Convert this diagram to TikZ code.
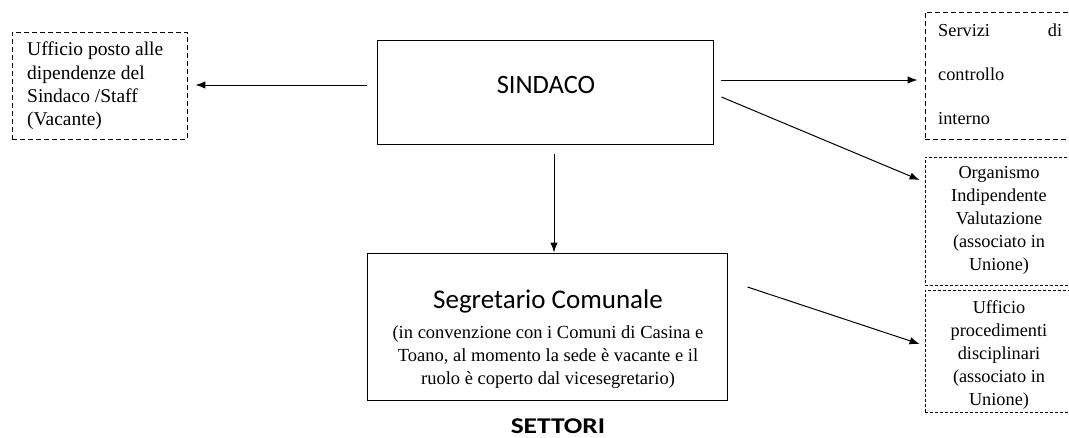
\documentclass[tikz,border=0pt]{standalone}
\usepackage{fontspec}
\setmainfont{Liberation Serif}
\newfontfamily\calib{Carlito}
\usetikzlibrary{calc,arrows.meta}
\begin{document}
\begin{tikzpicture}[x=1pt,y=-1pt,
  solidbox/.style={draw, line width=0.9pt, inner sep=0pt},
  dbox/.style={draw, line width=0.9pt, dash pattern=on 5pt off 3pt, inner sep=0pt},
  fbox/.style={draw, line width=0.8pt, dash pattern=on 3pt off 2pt, inner sep=0pt},
  arr/.style={-{Latex[length=10pt,width=7.5pt]}, line width=1pt},
  serif/.style={font=\fontsize{18.3}{23}\selectfont},
  txt/.style={inner sep=0pt}]
\useasboundingbox (0,0) rectangle (1069,437);
% boxes
\node[dbox, minimum width=175pt, minimum height=107pt] (staff) at (99.5,85.5) {};
\node[solidbox, minimum width=336pt, minimum height=104pt] (sind) at (545,92) {};
\node[solidbox, minimum width=360pt, minimum height=147pt] (seg) at (547,326.5) {};
\node[dbox, minimum width=152pt, minimum height=127pt] (serv) at (1001,75.5) {};
\node[fbox, minimum width=152pt, minimum height=128pt] (oiv) at (1001,221) {};
\node[fbox, minimum width=152pt, minimum height=122pt] (upd) at (1001,351) {};
% texts
\node[txt, anchor=west, align=left, font=\fontsize{19.5}{23.3}\selectfont] (stafft) at (27,86)
  {Ufficio posto alle\\dipendenze del\\Sindaco /Staff\\(Vacante)};
\node[txt, font=\calib\fontsize{26.5}{30}\selectfont] (sindt) at (546,85) {SINDACO};
\node[txt, anchor=base, font=\calib\fontsize{27}{30}\selectfont] (segt) at (548,308) {Segretario Comunale};
\node[txt, align=center, font=\fontsize{18.5}{22.7}\selectfont] (segb) at (548,357)
  {(in convenzione con i Comuni di Casina e\\Toano, al momento la sede è vacante e il\\ruolo è coperto dal vicesegretario)};
\node[txt, anchor=west, align=left, font=\fontsize{18.3}{44}\selectfont] (servt) at (938,74)
  {\hbox to 124pt{Servizi\hfill di}\\controllo\\interno};
\node[txt, align=center, serif] (oivt) at (999,220)
  {Organismo\\Indipendente\\Valutazione\\(associato in\\Unione)};
\node[txt, align=center, serif] (updt) at (999,355)
  {Ufficio\\procedimenti\\disciplinari\\(associato in\\Unione)};
\node[txt, anchor=base, font=\calib\bfseries\fontsize{22.5}{26}\selectfont] (sett) at (558,433)
  {\scalebox{1.22}[1]{SETTORI}};
% connectors
\draw[arr] ($(sind.west)+(-10,-7)$) -- ($(staff.east)+(8,-0.5)$);
\draw[arr] ($(sind.east)+(8,-12)$) -- ($(serv.west)+(-7,4.5)$);
\draw[arr] ($(sind.east)+(8,5)$) -- ($(oiv.west)+(-5,-41)$);
\draw[arr] ($(sind.south)+(9,10)$) -- ($(seg.north)+(7,0)$);
\draw[arr] ($(seg.east)+(20,-39.5)$) -- ($(upd.west)+(-5,-7)$);
\end{tikzpicture}
\end{document}
